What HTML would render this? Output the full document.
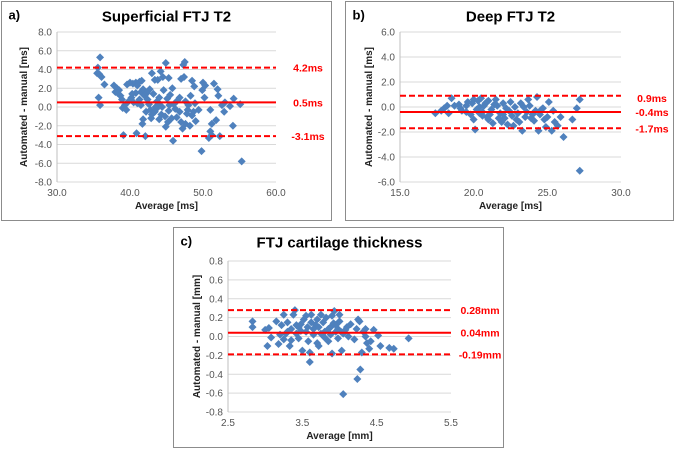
<!DOCTYPE html>
<html><head><meta charset="utf-8">
<style>
body{margin:0;background:#fff;width:676px;height:450px;overflow:hidden;font-family:"Liberation Sans",Arial,sans-serif}
svg{position:absolute;left:0;top:0}
</style></head>
<body>
<svg id="chart" width="676" height="450"></svg>
<script>
// ---- Panel a data ----
const aX=[35.9,35.6,35.5,35.8,36.1,36.5,35.7,35.9,37.8,38.2,38.0,38.5,38.7,38.3,38.9,39.0,39.3,39.5,39.1,39.6,40.0,40.4,40.8,41.0,41.3,41.6,40.2,40.5,40.8,41.0,41.5,41.8,42.0,42.3,41.5,41.8,41.7,42.2,42.6,42.8,43.0,43.4,43.8,44.2,44.5,44.9,45.3,43.0,43.4,43.7,44.0,44.3,44.6,44.9,45.1,45.5,45.8,45.9,45.3,45.7,46.2,46.5,46.8,47.0,47.3,47.5,47.4,47.0,47.2,47.6,47.8,48.0,48.3,48.5,48.8,48.5,48.2,49.0,49.4,49.8,50.0,50.3,50.2,50.8,51.0,51.2,51.0,51.2,51.8,51.5,52.0,52.1,52.3,52.6,53.0,52.9,53.7,54.2,54.1,55.1,55.3,42.1,40.9,43.5,42.9,44.8,46.0,47.9,48.9,45.2,46.4,43.2,44.0,39.8,40.3,41.3,42.4,43.9,45.4,46.8,47.6,48.7,42.7,43.6,44.4,49.9];
const aY=[5.3,4.2,3.6,3.5,3.2,2.4,1.0,0.2,2.3,2.0,1.6,1.8,1.2,1.5,0.8,-0.1,0.2,-0.3,-3.0,2.4,2.6,2.5,2.6,2.3,2.7,2.8,1.0,0.5,1.5,0.4,1.6,1.9,1.2,1.5,0.2,-1.3,-1.8,-0.5,0.3,-0.3,3.6,2.9,2.9,3.8,3.2,4.7,3.1,-0.8,-0.5,0.6,1.0,-0.8,1.8,-2.1,0.9,1.3,2.0,-3.6,-0.4,-1.2,-0.2,0.7,1.0,3.0,4.5,4.8,3.2,-1.6,-2.3,-1.8,-0.7,0.2,1.2,2.8,2.2,-0.9,-2.0,-1.5,-0.3,-4.7,2.6,2.3,1.0,-3.3,-0.3,-1.8,-2.6,-3.0,-1.4,2.5,1.9,1.2,-3.1,0.2,0.5,-0.5,0.1,0.9,-2.0,0.3,-5.8,-3.1,-2.8,0.0,-1.2,-1.0,0.3,-0.3,0.4,-1.6,-1.1,1.4,-1.3,0.6,1.4,0.8,0.8,0.4,0.2,-0.5,0.6,-0.5,1.9,-0.2,0.0,1.8];
const aLines=[4.2,0.5,-3.1];
const aLabels=["4.2ms","0.5ms","-3.1ms"];
const aXTicks=[30,40,50,60];
const aYTicks=[8,6,4,2,0,-2,-4,-6,-8];
// ---- Panel b data ----
const bX=[17.4,17.8,18.0,18.3,18.5,18.7,19.0,19.2,19.5,19.8,19.9,20.0,20.1,20.3,20.4,20.5,20.6,20.8,20.9,21.0,21.2,21.3,21.5,21.6,21.8,22.0,22.1,22.3,22.5,22.6,22.8,22.9,23.0,23.2,23.3,23.5,23.7,23.8,24.0,24.2,24.3,24.4,24.6,24.8,24.9,25.1,25.3,25.4,25.5,25.7,25.9,26.1,26.7,27.0,27.2,27.2,19.5,20.2,20.7,21.1,21.7,22.4,23.1,23.6,24.5,20.0,19.1,18.2,21.4,22.2,23.4,24.7,20.6,21.9,22.7,19.6,20.9,23.9,21.0,20.4,22.0,24.1,25.0];
const bY=[-0.5,-0.3,-0.1,-0.5,0.7,0.1,0.2,-0.3,0.1,-0.6,0.3,0.6,-1.8,0.5,0.0,0.7,-0.4,0.3,-0.8,0.5,-0.2,-1.3,0.6,0.1,-0.5,0.3,-0.9,-1.4,0.4,-0.7,0.0,-1.0,-0.5,0.3,-1.9,-0.8,0.6,0.1,-0.6,-0.3,0.8,-1.9,-0.2,-1.0,-1.6,0.4,-1.9,-0.3,-1.2,-1.5,-0.8,-2.4,-1.0,-0.1,0.6,-5.1,-0.4,-0.2,0.1,-0.6,-0.9,-0.3,-1.2,-0.4,-0.6,-1.0,-0.1,0.1,0.2,-0.1,0.0,-0.1,-0.7,-1.2,-1.5,0.4,0.4,-0.9,-1.0,-0.5,-0.6,-1.1,-0.8];
const bLines=[0.9,-0.4,-1.7];
const bLabels=["0.9ms","-0.4ms","-1.7ms"];
const bXTicks=[15,20,25,30];
const bYTicks=[6,4,2,0,-2,-4,-6];
// ---- Panel c data ----
const cX=[2.83,2.83,3.0,3.05,3.03,3.08,3.15,3.18,3.22,3.25,3.28,3.3,3.33,3.35,3.38,3.4,3.42,3.45,3.48,3.5,3.52,3.55,3.57,3.6,3.6,3.62,3.65,3.68,3.7,3.72,3.75,3.78,3.8,3.82,3.85,3.88,3.9,3.9,3.93,3.95,3.98,4.0,4.02,4.03,4.05,4.05,4.1,4.15,4.2,4.23,4.25,4.27,4.24,4.28,4.3,4.32,4.35,4.37,4.4,4.42,4.46,4.52,4.55,4.67,4.73,4.93,3.2,3.25,3.3,3.45,3.55,3.65,3.75,3.85,3.95,3.58,3.48,3.7,3.8,3.92,4.0,4.08,3.35,3.62,3.88,4.12,4.35,3.42,3.72,3.98];
const cY=[0.16,0.10,0.07,0.09,-0.10,-0.01,0.16,-0.08,0.12,0.23,0.03,0.15,-0.10,0.08,0.23,0.28,0.12,-0.02,0.06,-0.15,0.18,0.22,0.10,-0.27,-0.17,0.23,0.02,0.12,-0.07,-0.10,0.23,0.15,0.05,0.20,-0.05,0.10,0.22,-0.18,0.27,0.12,-0.02,0.23,0.05,-0.15,-0.61,0.03,0.10,0.13,-0.03,0.08,0.18,0.16,-0.45,-0.35,-0.17,0.05,0.08,-0.07,-0.13,-0.05,0.07,0.01,-0.10,-0.12,-0.13,-0.02,0.02,-0.03,0.05,0.10,0.05,0.08,0.03,0.08,0.05,-0.05,0.13,0.18,-0.01,0.14,0.16,0.07,-0.04,0.15,0.02,0.00,0.00,0.03,0.10,0.08];
const cLines=[0.28,0.04,-0.19];
const cLabels=["0.28mm","0.04mm","-0.19mm"];
const cXTicks=[2.5,3.5,4.5,5.5];
const cYTicks=[0.8,0.6,0.4,0.2,0,-0.2,-0.4,-0.6,-0.8];

const NS="http://www.w3.org/2000/svg";
const svg=document.getElementById('chart');
function mk(tag,attrs,parent,text){const e=document.createElementNS(NS,tag);for(const k in attrs)e.setAttribute(k,attrs[k]);if(text!==undefined)e.textContent=text;(parent||svg).appendChild(e);return e;}

function panel(cfg){
  const g=mk('g',{});
  
  
  const b=mk('rect',{x:cfg.bx,y:cfg.by,width:cfg.bw,height:cfg.bh,fill:'#fff',stroke:'#8c8c8c','stroke-width':1},g);
  
  
  const xs=v=>cfg.x0+(v-cfg.xMin)/(cfg.xMax-cfg.xMin)*(cfg.x1-cfg.x0);
  const ys=v=>cfg.y0+(cfg.yMax-v)/(cfg.yMax-cfg.yMin)*(cfg.y1-cfg.y0);
  cfg.yTicks.forEach(t=>{
    const l=mk('line',{x1:cfg.x0,x2:cfg.x1,y1:ys(t),y2:ys(t),stroke:'#d9d9d9','stroke-width':1},g);
    
    
    const tx=mk('text',{x:cfg.x0-5,y:ys(t)+3.5,'text-anchor':'end','font-size':10,fill:'#555'},g,t.toFixed(1));
    
    
  });
  const ax=mk('line',{x1:cfg.x0,x2:cfg.x0,y1:cfg.y0,y2:cfg.y1,stroke:'#bfbfbf'},g);
  
  
  cfg.xTicks.forEach(t=>{
    const tx=mk('text',{x:xs(t),y:cfg.y1+14,'text-anchor':'middle','font-size':10,fill:'#555'},g,t.toFixed(1));
    
    
  });
  cfg.xs.forEach((v,i)=>{
    const cx=xs(v),cy=ys(cfg.ys[i]);
    const p=mk('polygon',{points:`${cx},${cy-4} ${cx+4},${cy} ${cx},${cy+4} ${cx-4},${cy}`,fill:'#4f81bd'},g);
    
    
  });
  cfg.lines.forEach((v,i)=>{
    const l=mk('line',{x1:cfg.x0,x2:cfg.x1,y1:ys(v),y2:ys(v),stroke:'#ff0000','stroke-width':2,'stroke-dasharray':i===1?'':'6,3'},g);
    
    
    const t=mk('text',{x:cfg.lx,y:ys(v)+4+(cfg.loff?cfg.loff[i]:0),'text-anchor':'middle','font-size':10.5,'font-weight':'bold',fill:'#ff0000'},g,cfg.labels[i]);
    
    
  });
  const ti=mk('text',{x:(cfg.x0+cfg.x1)/2,y:cfg.by+20,'text-anchor':'middle','font-size':15,'font-weight':'bold',fill:'#000'},g,cfg.title);
  
  
  const lt=mk('text',{x:cfg.bx+7,y:cfg.by+18,'font-size':13,'font-weight':'bold',fill:'#000'},g,cfg.letter);
  
  
  const xt=mk('text',{x:(cfg.x0+cfg.x1)/2,y:cfg.y1+27,'text-anchor':'middle','font-size':10,'font-weight':'bold',fill:'#222'},g,cfg.xTitle);
  
  
  const yc=(cfg.y0+cfg.y1)/2;
  const yt=mk('text',{x:cfg.yTx,y:yc,'text-anchor':'middle','font-size':10,'font-weight':'bold',fill:'#222',transform:`rotate(-90 ${cfg.yTx} ${yc})`},g,cfg.yTitle);
  
  
}

panel({name:'panel-a-superficial-ftj-t2',letter:'a)',title:'Superficial FTJ T2',bx:1.5,by:1.5,bw:330,bh:219,
  x0:57,x1:276,y0:32,y1:182,xMin:30,xMax:60,yMin:-8,yMax:8,xs:aX,ys:aY,lines:aLines,labels:aLabels,
  xTicks:aXTicks,yTicks:aYTicks,lx:308,yTx:27,xTitle:'Average [ms]',yTitle:'Automated - manual [ms]'});
panel({name:'panel-b-deep-ftj-t2',letter:'b)',title:'Deep FTJ T2',bx:345.5,by:1.5,bw:328,bh:219,
  x0:400,x1:621,y0:32,y1:182,xMin:15,xMax:30,yMin:-6,yMax:6,xs:bX,ys:bY,lines:bLines,labels:bLabels,
  xTicks:bXTicks,yTicks:bYTicks,lx:652,yTx:372,loff:[2,0,0],xTitle:'Average [ms]',yTitle:'Automated - manual [ms]'});
panel({name:'panel-c-ftj-cartilage-thickness',letter:'c)',title:'FTJ cartilage thickness',bx:173.5,by:227.5,bw:330,bh:220,
  x0:228,x1:451,y0:261,y1:412,xMin:2.5,xMax:5.5,yMin:-0.8,yMax:0.8,xs:cX,ys:cY,lines:cLines,labels:cLabels,
  xTicks:cXTicks,yTicks:cYTicks,lx:480,yTx:200,xTitle:'Average [mm]',yTitle:'Automated - manual [mm]'});
</script>
</body></html>
